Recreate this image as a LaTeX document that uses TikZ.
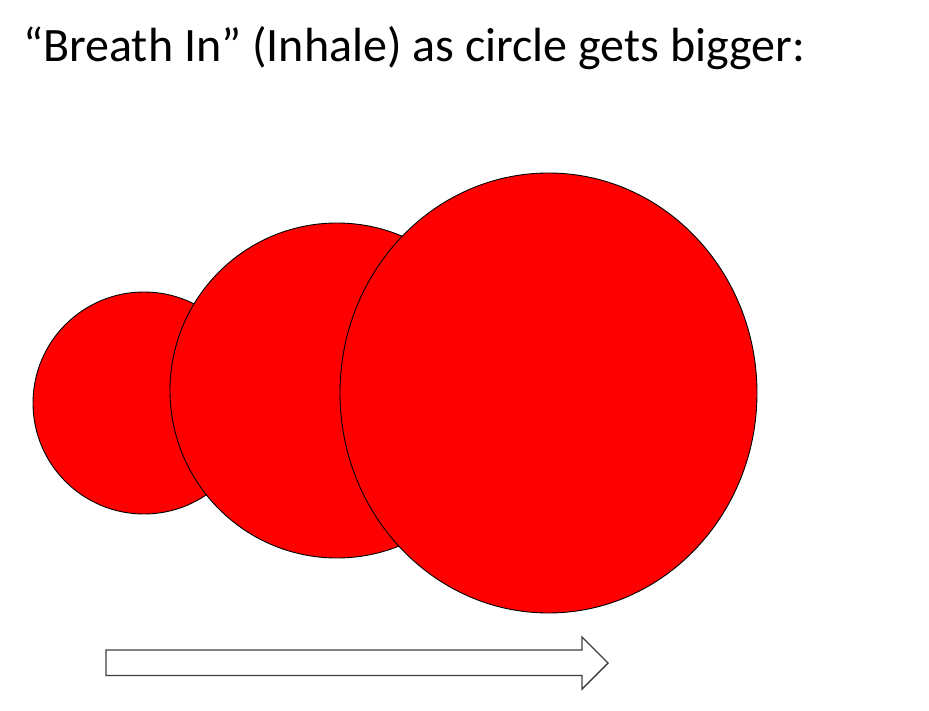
\documentclass[tikz,border=0pt]{standalone}
\usepackage{fontspec}
\setmainfont{Carlito}
\usepackage{tikz}
\usetikzlibrary{shapes.geometric}

\tikzset{
  bubble/.style={ellipse, draw=black, line width=0.9pt, fill=red, inner sep=0pt},
  blockarrow/.style={draw=black!75, line width=1.4pt, fill=white, line join=miter}
}

\begin{document}
\begin{tikzpicture}[x=1pt, y=-1pt]
\useasboundingbox (0,0) rectangle (929,711);
% title
\node[anchor=base west, inner sep=0pt, font=\fontsize{48}{56}\selectfont] (title) at (23,62)
  {“Breath In” (Inhale) as circle gets bigger:};
% circles, small to big
\node[bubble, minimum width=222pt, minimum height=222pt] (small) at (144,403) {};
\node[bubble, minimum width=334pt, minimum height=335pt] (medium) at (337,390.5) {};
\node[bubble, minimum width=417pt, minimum height=440pt] (large) at (548.5,393) {};
% arrow
\draw[blockarrow] (106,650) -- (582,650) -- (582,637) -- (608,663) -- (582,689)
  -- (582,675.5) -- (106,675.5) -- cycle;
\end{tikzpicture}
\end{document}
